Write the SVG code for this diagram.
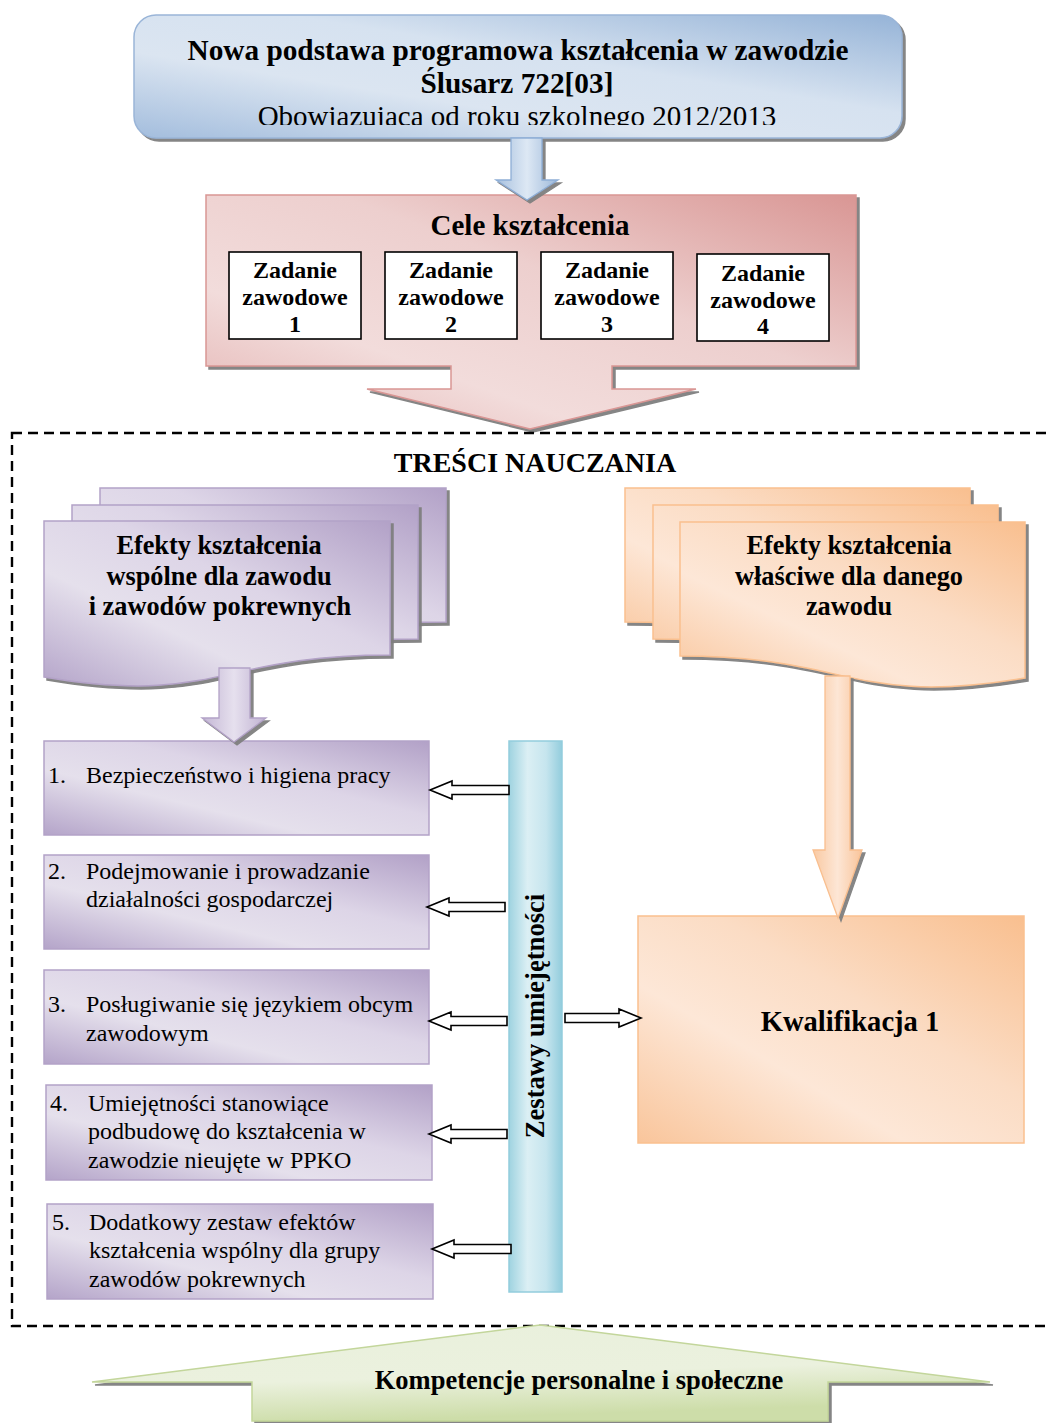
<svg xmlns="http://www.w3.org/2000/svg" width="1048" height="1423" viewBox="0 0 1048 1423">
<style>
.tb{font-family:"Liberation Serif","Times New Roman",serif;font-weight:bold;fill:#000}
.tr{font-family:"Liberation Serif","Times New Roman",serif;font-weight:normal;fill:#000}
.c{text-anchor:middle}
.hollow{fill:#fff;stroke:#000;stroke-width:1.6;stroke-linejoin:miter}
.zad{fill:#fff;stroke:#000;stroke-width:1.6}
</style>
<defs>
<filter id="sh" x="-5%" y="-5%" width="115%" height="120%">
<feDropShadow dx="3" dy="3" stdDeviation="0.7" flood-color="#7f7f7f" flood-opacity="0.95"/>
</filter>
<linearGradient id="gBlue" x1="0" y1="1" x2="1" y2="0">
<stop offset="0" stop-color="#a3bddd"/><stop offset="0.35" stop-color="#dbe5f1"/><stop offset="0.6" stop-color="#d6e2f0"/><stop offset="1" stop-color="#95b3d7"/>
</linearGradient>
<linearGradient id="gBlueA" x1="0" y1="0" x2="1" y2="0">
<stop offset="0" stop-color="#a7c0de"/><stop offset="0.5" stop-color="#dde8f4"/><stop offset="1" stop-color="#9cb8da"/>
</linearGradient>
<linearGradient id="gPink" x1="0" y1="1" x2="1" y2="0">
<stop offset="0" stop-color="#e3b1b0"/><stop offset="0.3" stop-color="#f2dcdb"/><stop offset="0.6" stop-color="#edcfce"/><stop offset="1" stop-color="#d99694"/>
</linearGradient>
<linearGradient id="gPurple" x1="0" y1="1" x2="1" y2="0">
<stop offset="0" stop-color="#b4a4c9"/><stop offset="0.35" stop-color="#e5e0ec"/><stop offset="0.6" stop-color="#ddd5e7"/><stop offset="1" stop-color="#b2a1c7"/>
</linearGradient>
<linearGradient id="gPurpleA" x1="0" y1="0" x2="1" y2="0">
<stop offset="0" stop-color="#c3b6d4"/><stop offset="0.5" stop-color="#e6e0ee"/><stop offset="1" stop-color="#c0b2d2"/>
</linearGradient>
<linearGradient id="gOrange" x1="0" y1="1" x2="1" y2="0">
<stop offset="0" stop-color="#f9c59b"/><stop offset="0.35" stop-color="#fde7d7"/><stop offset="0.6" stop-color="#fbdcc4"/><stop offset="1" stop-color="#f9bf8f"/>
</linearGradient>
<linearGradient id="gOrangeA" x1="0" y1="0" x2="1" y2="0">
<stop offset="0" stop-color="#f9c9a2"/><stop offset="0.5" stop-color="#fde6d5"/><stop offset="1" stop-color="#f9c49a"/>
</linearGradient>
<linearGradient id="gTeal" x1="0" y1="0" x2="1" y2="0">
<stop offset="0" stop-color="#9fd3e0"/><stop offset="0.35" stop-color="#dbeff4"/><stop offset="0.7" stop-color="#c6e5ee"/><stop offset="1" stop-color="#93cddd"/>
</linearGradient>
<linearGradient id="gGreen" x1="0" y1="0" x2="0.3" y2="1">
<stop offset="0" stop-color="#e9f0dc"/><stop offset="0.6" stop-color="#ebf1de"/><stop offset="1" stop-color="#cddda9"/>
</linearGradient>
<clipPath id="clipTop"><rect x="134" y="15" width="768" height="110"/></clipPath>
</defs>

<rect width="1048" height="1423" fill="#fff"/>

<!-- Top node -->
<g id="n-top">
<rect x="134" y="15" width="768" height="123" rx="22" fill="url(#gBlue)" stroke="#9ab5d8" stroke-width="1.5" filter="url(#sh)"/>
<text class="tb c" x="518" y="60" font-size="29.3">Nowa podstawa programowa kształcenia w zawodzie</text>
<text class="tb c" x="517" y="93" font-size="29.3">Ślusarz 722[03]</text>
<g clip-path="url(#clipTop)"><text class="tr c" x="517" y="126" font-size="29">Obowiązująca od roku szkolnego 2012/2013</text></g>
</g>

<!-- Cele ksztalcenia node -->
<g id="n-cele">
<path d="M206,195 H856 V366 H612 V389 H696 L530,429 L367,389 H451 V366 H206 Z" fill="url(#gPink)" stroke="#d99694" stroke-width="1.5" filter="url(#sh)"/>
<text class="tb c" x="530" y="235" font-size="29">Cele kształcenia</text>
</g>
<g id="n-z1">
<rect class="zad" x="229" y="252" width="132" height="87"/>
<text class="tb c" x="295" y="278" font-size="24">Zadanie</text>
<text class="tb c" x="295" y="305" font-size="24">zawodowe</text>
<text class="tb c" x="295" y="332" font-size="24">1</text>
</g>
<g id="n-z2">
<rect class="zad" x="385" y="252" width="132" height="87"/>
<text class="tb c" x="451" y="278" font-size="24">Zadanie</text>
<text class="tb c" x="451" y="305" font-size="24">zawodowe</text>
<text class="tb c" x="451" y="332" font-size="24">2</text>
</g>
<g id="n-z3">
<rect class="zad" x="541" y="252" width="132" height="87"/>
<text class="tb c" x="607" y="278" font-size="24">Zadanie</text>
<text class="tb c" x="607" y="305" font-size="24">zawodowe</text>
<text class="tb c" x="607" y="332" font-size="24">3</text>
</g>
<g id="n-z4">
<rect class="zad" x="697" y="254" width="132" height="87"/>
<text class="tb c" x="763" y="281" font-size="24">Zadanie</text>
<text class="tb c" x="763" y="308" font-size="24">zawodowe</text>
<text class="tb c" x="763" y="334" font-size="24">4</text>
</g>

<!-- Tresci nauczania frame -->
<g id="n-tresci">
<rect x="12" y="433" width="1070" height="893" fill="none" stroke="#000" stroke-width="2.4" stroke-dasharray="10 6"/>
<text class="tb c" x="535" y="472" font-size="28">TREŚCI NAUCZANIA</text>
</g>

<!-- Efekty wspolne (purple document stack) -->
<g id="n-efekty-wspolne">
<path transform="translate(100,488)" d="M0,0 H346 V134 C173,134 173,185 0,156 Z" fill="url(#gPurple)" stroke="#b3a2c7" stroke-width="1.5" filter="url(#sh)"/>
<path transform="translate(72,505)" d="M0,0 H346 V134 C173,134 173,185 0,156 Z" fill="url(#gPurple)" stroke="#b3a2c7" stroke-width="1.5" filter="url(#sh)"/>
<path transform="translate(44,521)" d="M0,0 H346 V134 C173,134 173,185 0,156 Z" fill="url(#gPurple)" stroke="#b3a2c7" stroke-width="1.5" filter="url(#sh)"/>
<text class="tb c" x="219" y="554" font-size="26.3">Efekty kształcenia</text>
<text class="tb c" x="219" y="585" font-size="26.3">wspólne dla zawodu</text>
<text class="tb c" x="220" y="615" font-size="26.3">i zawodów pokrewnych</text>
</g>

<!-- Efekty wlasciwe (orange document stack) -->
<g id="n-efekty-wlasciwe">
<path transform="translate(625,488)" d="M0,0 H345 V156 C172,185 172,134 0,134 Z" fill="url(#gOrange)" stroke="#fac08f" stroke-width="1.5" filter="url(#sh)"/>
<path transform="translate(653,505)" d="M0,0 H345 V156 C172,185 172,134 0,134 Z" fill="url(#gOrange)" stroke="#fac08f" stroke-width="1.5" filter="url(#sh)"/>
<path transform="translate(680,522)" d="M0,0 H345 V156 C172,185 172,134 0,134 Z" fill="url(#gOrange)" stroke="#fac08f" stroke-width="1.5" filter="url(#sh)"/>
<text class="tb c" x="849" y="554" font-size="26.3">Efekty kształcenia</text>
<text class="tb c" x="849" y="585" font-size="26.3">właściwe dla danego</text>
<text class="tb c" x="849" y="615" font-size="26.3">zawodu</text>
</g>

<!-- List items -->
<g id="n-item1">
<rect x="44" y="741" width="385" height="94" fill="url(#gPurple)" stroke="#b3a2c7" stroke-width="1.5"/>
<text class="tr" x="48" y="783" font-size="24">1.</text>
<text class="tr" x="86" y="783" font-size="24">Bezpieczeństwo i higiena pracy</text>
</g>
<g id="n-item2">
<rect x="44" y="855" width="385" height="94" fill="url(#gPurple)" stroke="#b3a2c7" stroke-width="1.5"/>
<text class="tr" x="48" y="879" font-size="24">2.</text>
<text class="tr" x="86" y="879" font-size="24">Podejmowanie i prowadzanie</text>
<text class="tr" x="86" y="907" font-size="24">działalności gospodarczej</text>
</g>
<g id="n-item3">
<rect x="44" y="970" width="385" height="94" fill="url(#gPurple)" stroke="#b3a2c7" stroke-width="1.5"/>
<text class="tr" x="48" y="1012" font-size="24">3.</text>
<text class="tr" x="86" y="1012" font-size="24">Posługiwanie się językiem obcym</text>
<text class="tr" x="86" y="1041" font-size="24">zawodowym</text>
</g>
<g id="n-item4">
<rect x="46" y="1085" width="386" height="95" fill="url(#gPurple)" stroke="#b3a2c7" stroke-width="1.5"/>
<text class="tr" x="50" y="1111" font-size="24">4.</text>
<text class="tr" x="88" y="1111" font-size="24">Umiejętności stanowiące</text>
<text class="tr" x="88" y="1139" font-size="24">podbudowę do kształcenia w</text>
<text class="tr" x="88" y="1168" font-size="24">zawodzie nieujęte w PPKO</text>
</g>
<g id="n-item5">
<rect x="47" y="1204" width="386" height="95" fill="url(#gPurple)" stroke="#b3a2c7" stroke-width="1.5"/>
<text class="tr" x="52" y="1230" font-size="24">5.</text>
<text class="tr" x="89" y="1230" font-size="24">Dodatkowy zestaw efektów</text>
<text class="tr" x="89" y="1258" font-size="24">kształcenia wspólny dla grupy</text>
<text class="tr" x="89" y="1287" font-size="24">zawodów pokrewnych</text>
</g>

<!-- Zestawy umiejetnosci -->
<g id="n-zestawy">
<rect x="509" y="741" width="53" height="551" fill="url(#gTeal)" stroke="#93cddd" stroke-width="1.5"/>
<text class="tb c" transform="translate(544,1016) rotate(-90)" x="0" y="0" font-size="26.6">Zestawy umiejętności</text>
</g>

<!-- Kwalifikacja -->
<g id="n-kwal">
<rect x="638" y="916" width="386" height="227" fill="url(#gOrange)" stroke="#fac08f" stroke-width="1.5"/>
<text class="tb c" x="850" y="1031" font-size="28.6">Kwalifikacja 1</text>
</g>

<!-- Kompetencje -->
<g id="n-komp">
<path d="M540,1325 L990,1382 H828 V1421 H252 V1382 H92 Z" fill="url(#gGreen)" stroke="#c3d69b" stroke-width="1.5" filter="url(#sh)"/>
<text class="tb c" x="579" y="1389" font-size="26.5">Kompetencje personalne i społeczne</text>
</g>

<!-- Connectors -->
<g id="connectors">
<path d="M511,138 H542 V180 H558 L527,200 L496,180 H511 Z" fill="url(#gBlueA)" stroke="#8eaed6" stroke-width="1.3" filter="url(#sh)"/>
<path d="M219,668 H250 V718 H266 L234,742 L202,718 H219 Z" fill="url(#gPurpleA)" stroke="#b3a2c7" stroke-width="1.3" filter="url(#sh)"/>
<path d="M825,676 H850 V850 H862 L838,918 L813,850 H825 Z" fill="url(#gOrangeA)" stroke="#f9bf8f" stroke-width="1.3" filter="url(#sh)"/>
<path class="hollow" d="M430,790 L452,781 V785.5 H509 V794.5 H452 V799 Z"/>
<path class="hollow" d="M427,907 L449,898 V902.5 H505 V911.5 H449 V916 Z"/>
<path class="hollow" d="M429,1021 L451,1012 V1016.5 H507 V1025.5 H451 V1030 Z"/>
<path class="hollow" d="M429,1134 L451,1125 V1129.5 H507 V1138.5 H451 V1143 Z"/>
<path class="hollow" d="M432,1249 L454,1240 V1244.5 H511 V1253.5 H454 V1258 Z"/>
<path class="hollow" d="M641,1018 L619,1009 V1013.5 H565 V1022.5 H619 V1027 Z"/>
</g>
</svg>
